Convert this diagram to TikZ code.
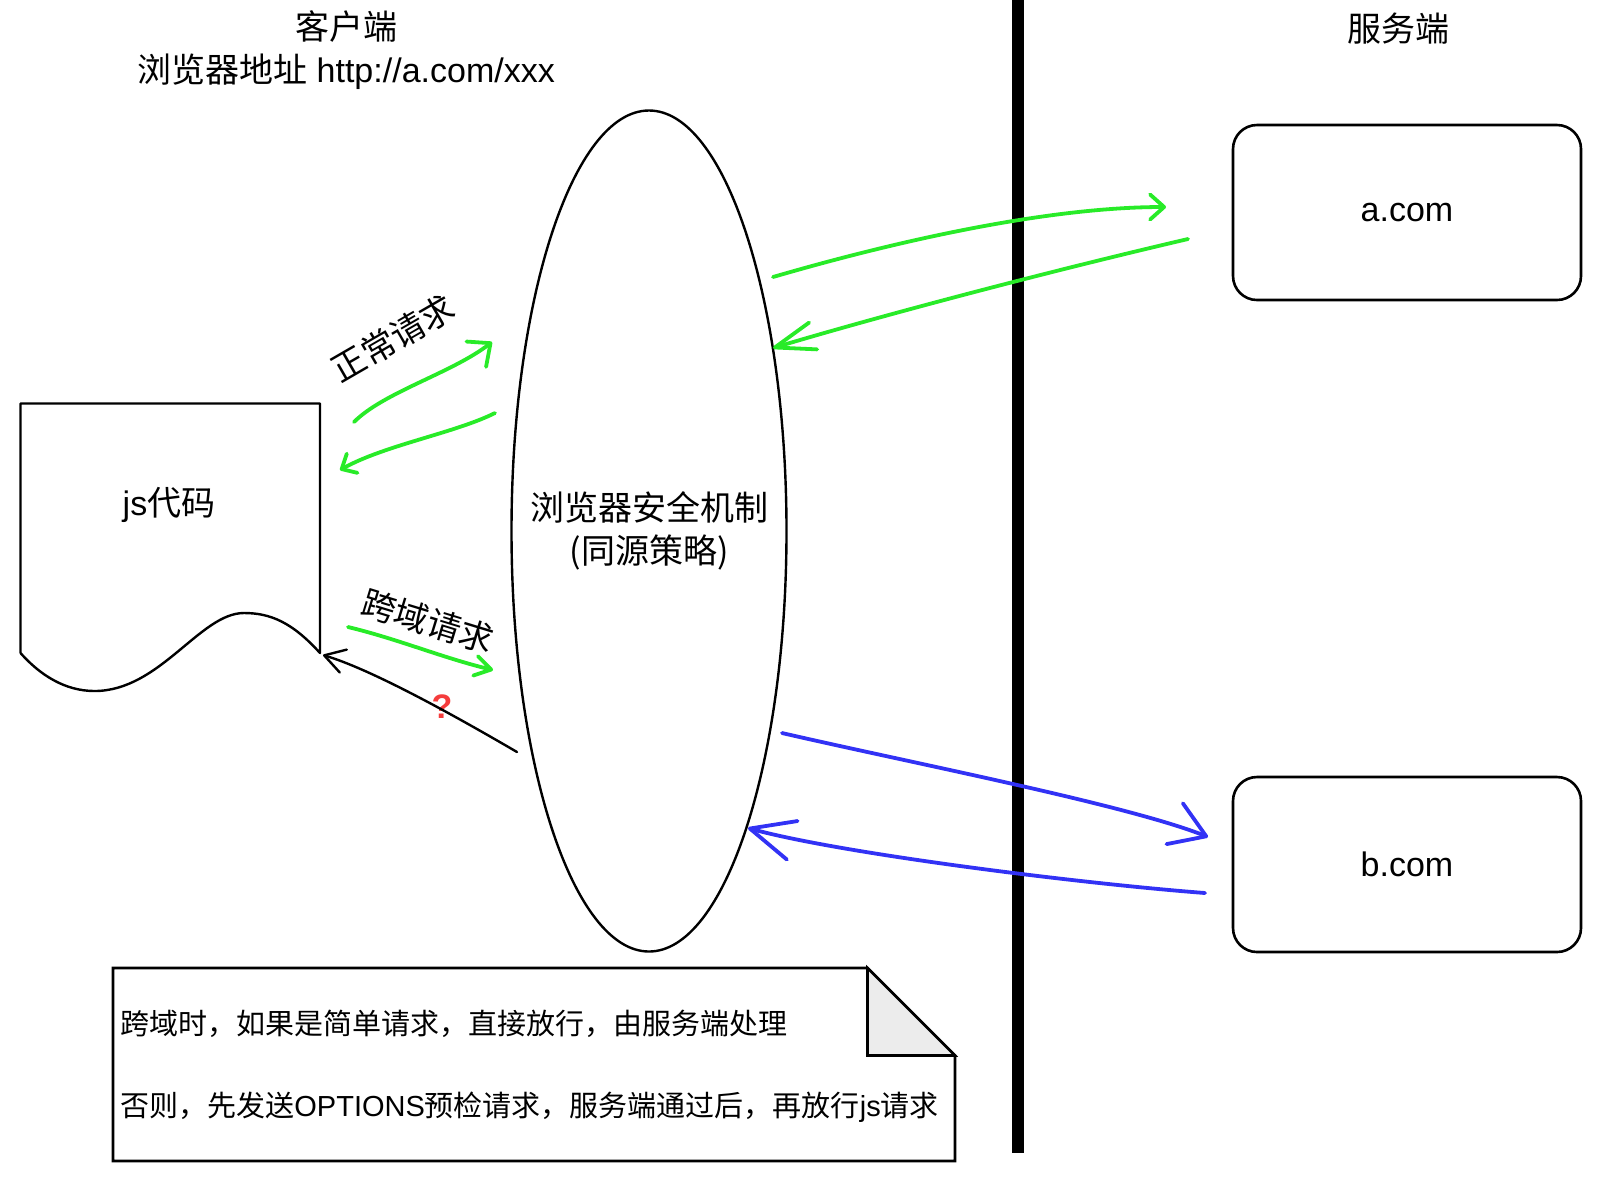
\documentclass[tikz,border=0pt]{standalone}
\usepackage{fontspec}
\setmainfont{Liberation Sans}
\newfontfamily\cjk{Noto Sans CJK SC}
\usetikzlibrary{arrows.meta,shapes.geometric}
\definecolor{sketchgreen}{RGB}{40,235,40}
\definecolor{sketchblue}{RGB}{50,50,245}
\definecolor{qred}{RGB}{245,60,60}
\definecolor{foldgray}{RGB}{236,236,236}
\begin{document}
\begin{tikzpicture}[x=0.5pt,y=-0.5pt,
  txt/.style={font=\fontsize{17}{21.5}\selectfont, inner sep=0pt},
  cjktxt/.style={font=\cjk\fontsize{17}{21.5}\selectfont, inner sep=0pt},
  notetxt/.style={font=\fontsize{14.5}{18}\selectfont, inner sep=0pt, anchor=west},
  gpen/.style={draw=sketchgreen, line width=1.9pt, line cap=round, line join=round},
  bpen/.style={draw=sketchblue, line width=1.9pt, line cap=round, line join=round},
  kpen/.style={draw=black, line width=1.2pt, line cap=round, line join=round},
  srvbox/.style={draw, line width=1.3pt, rounded corners=12pt, minimum width=174pt, minimum height=87.5pt, font=\fontsize{17}{21.5}\selectfont},
]
\useasboundingbox (0,0) rectangle (1610,1196);

% titles
\node[txt, align=center] (client) at (346,50) {{\cjk 客户端}\\{\cjk 浏览器地址} http://a.com/xxx};
\node[cjktxt] (server) at (1398,29) {服务端};

% divider
\coordinate (dtop) at (1018,0);
\coordinate (dbot) at (1018,1153);
\draw[line width=6pt] (dtop) -- (dbot);

% browser security ellipse
\node[draw, ellipse, line width=1.2pt, minimum width=137.5pt, minimum height=420.5pt,
      inner sep=0pt] (sec) at (649,531) {};
\node[cjktxt, align=center] (sectxt) at (sec.center) {浏览器安全机制\\(同源策略)};

% servers
\node[srvbox] (acom) at (1407,212.5) {a.com};
\node[srvbox] (bcom) at (1407,864.5) {b.com};

% js document shape
\draw[line width=1.2pt, line join=round] (20.5,653) -- (20.5,403.5) -- (320,403.5) -- (320,653)
  .. controls (292,622) and (270,613) .. (244,613)
  .. controls (200,613) and (160,691) .. (94.5,691)
  .. controls (65,691) and (40,675) .. (20.5,653);
\node[txt] (js) at (169,505) {js{\cjk 代码}};

% note
\draw[line width=1.3pt, line join=miter] (113,968) -- (867.5,968) -- (955,1055.5) -- (955,1161) -- (113,1161) -- cycle;
\filldraw[fill=foldgray, line width=1.3pt] (867.5,968) -- (867.5,1055.5) -- (955,1055.5) -- cycle;
\node[notetxt] (n1) at (120,1024) {{\cjk 跨域时，如果是简单请求，直接放行，由服务端处理}};
\node[notetxt] (n2) at (120,1107) {{\cjk 否则，先发送}OPTIONS{\cjk 预检请求，服务端通过后，再放行}js{\cjk 请求}};

% labels
\node[cjktxt, rotate=30] (lnormal) at (393,338) {正常请求};
\node[cjktxt, rotate=-17] (lcross) at (428,621) {跨域请求};
\node[font=\bfseries\fontsize{17}{20}\selectfont, text=qred, inner sep=0pt] (q) at (442,707) {?};

% arrow end points
\coordinate (g1s) at (354,422);  \coordinate (g1e) at (492,342);
\coordinate (g2s) at (495,413);  \coordinate (g2e) at (340,470);
\coordinate (g3s) at (348,627);  \coordinate (g3e) at (493,670);
\coordinate (k1s) at (517,752);  \coordinate (k1e) at (323,655);
\coordinate (ga1s) at (773,277); \coordinate (ga1e) at (1166,207);
\coordinate (ga2s) at (1188,239); \coordinate (ga2e) at (773,348);
\coordinate (bb1s) at (782,733); \coordinate (bb1e) at (1208,837);
\coordinate (bb2s) at (1205,893); \coordinate (bb2e) at (748,828);

% client side arrows
\draw[gpen, -{Straight Barb[length=9pt,width=16pt,round]}] (g1s) .. controls +(30,-30) and +(-40,31) .. (g1e);
\draw[gpen, -{Straight Barb[length=6pt,width=11pt,round]}] (g2s) .. controls +(-40,20) and +(45,-25) .. (g2e);
\draw[gpen, -{Straight Barb[length=8pt,width=10pt,round]}] (g3s) .. controls +(50,12) and +(-50,-12) .. (g3e);
\draw[kpen, -{Straight Barb[length=10pt,width=12pt,round]}] (k1s) .. controls +(-60,-35) and +(50,15) .. (k1e);

% server side arrows
\draw[gpen, -{Straight Barb[length=7pt,width=12.5pt,round]}] (ga1s) .. controls +(120,-35) and +(-120,0) .. (ga1e);
\draw[gpen, -{Straight Barb[length=20pt,width=14pt,round]}] (ga2s) .. controls +(-150,35) and +(100,-30) .. (ga2e);
\draw[bpen, -{Straight Barb[length=17pt,width=22pt,round]}] (bb1s) .. controls +(130,30) and +(-80,-32) .. (bb1e);
\draw[bpen, -{Straight Barb[length=22pt,width=20pt,round]}] (bb2s) .. controls +(-130,-10) and +(90,25) .. (bb2e);
\end{tikzpicture}
\end{document}
